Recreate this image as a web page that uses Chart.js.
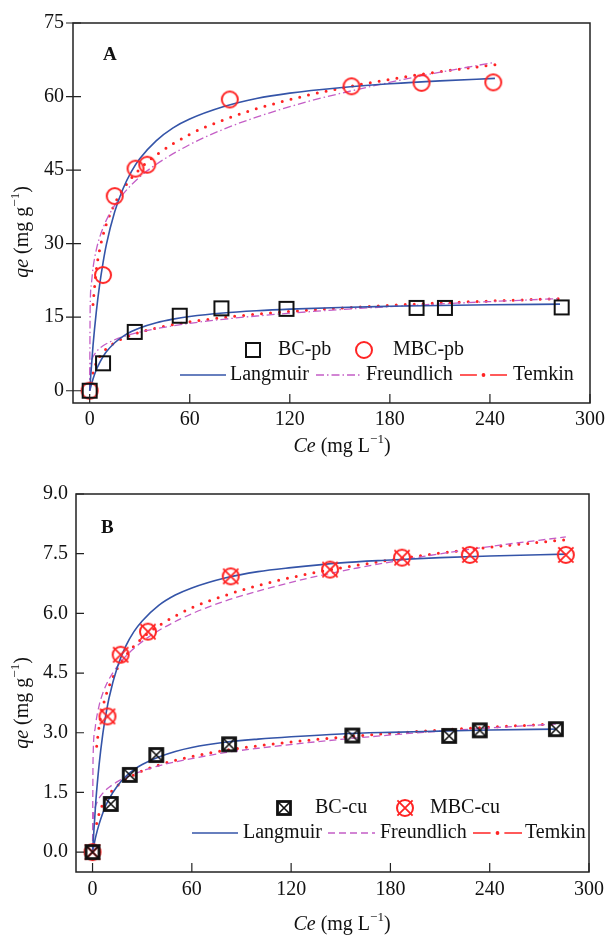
<!DOCTYPE html>
<html>
<head>
<meta charset="utf-8">
<script src="https://cdn.jsdelivr.net/npm/chart.js@4.4.1/dist/chart.umd.min.js"></script>
<style>
  html, body { margin: 0; padding: 0; background: #fff; }
  canvas { display: block; }
</style>
</head>
<body>
<canvas id="chartA" width="610" height="465"></canvas>
<canvas id="chartB" width="610" height="470"></canvas>
<script>
// ---- axis ticks ----
const xTicks = [0, 60, 120, 180, 240, 300];
const yTicksA = [0, 15, 30, 45, 60, 75];
const yTicksB = [0, 1.5, 3.0, 4.5, 6.0, 7.5, 9.0];

// ---- panel A: Pb ----
const bcPbCe = [0, 8, 27, 54, 79, 118, 196, 213, 283];
const bcPbQe = [0, 5.6, 12.0, 15.3, 16.8, 16.7, 16.9, 16.9, 17.0];
const mbcPbCe = [0, 8, 15, 27.5, 34.5, 84, 157, 199, 242];
const mbcPbQe = [0, 23.6, 39.7, 45.3, 46.1, 59.4, 62.1, 62.8, 62.9];

const langMbcPbCe = [0, 2, 4, 6, 8, 10, 15, 20, 25, 30, 40, 50, 60, 80, 100, 120, 150, 180, 210, 243];
const langMbcPbQe = [0, 9.2, 16.2, 21.7, 26.1, 29.8, 36.5, 41.2, 44.7, 47.3, 51.0, 53.6, 55.4, 57.9, 59.6, 60.7, 61.8, 62.6, 63.2, 63.7];
const freMbcPbCe = [0, 0.3, 1, 2, 4, 6, 8, 10, 15, 20, 30, 40, 60, 80, 100, 130, 160, 200, 243];
const freMbcPbQe = [0, 16.9, 21.7, 25.0, 28.8, 31.3, 33.2, 34.8, 37.8, 40.1, 43.6, 46.2, 50.2, 53.3, 55.8, 58.9, 61.4, 64.3, 67.0];
const temMbcPbCe = [2, 4, 6, 8, 10, 15, 20, 30, 40, 60, 80, 100, 130, 160, 200, 243];
const temMbcPbQe = [17.6, 24.7, 28.8, 31.7, 34.0, 38.1, 41.1, 45.2, 48.1, 52.3, 55.2, 57.5, 60.2, 62.3, 64.6, 66.5];

const langBcPbCe = [0, 2, 4, 6, 8, 10, 15, 20, 25, 30, 40, 50, 60, 80, 100, 120, 150, 180, 210, 240, 282];
const langBcPbQe = [0, 2.41, 4.27, 5.74, 6.94, 7.93, 9.79, 11.10, 12.07, 12.81, 13.88, 14.61, 15.14, 15.86, 16.32, 16.65, 16.99, 17.22, 17.40, 17.53, 17.66];
const freBcPbCe = [0, 0.3, 1.5, 2, 4, 6, 8, 10, 15, 20, 30, 40, 60, 80, 100, 130, 160, 200, 240, 282];
const freBcPbQe = [0, 4.72, 6.53, 6.92, 7.96, 8.64, 9.16, 9.58, 10.40, 11.02, 11.96, 12.67, 13.75, 14.57, 15.24, 16.07, 16.75, 17.53, 18.18, 18.80];
const temBcPbCe = [2, 4, 6, 8, 10, 15, 20, 30, 40, 60, 80, 100, 130, 160, 200, 240, 282];
const temBcPbQe = [3.60, 5.73, 6.97, 7.85, 8.54, 9.78, 10.67, 11.91, 12.80, 14.04, 14.92, 15.61, 16.41, 17.05, 17.74, 18.30, 18.79];

// ---- panel B: Cu ----
const bcCuCe = [0, 11, 22.5, 38.5, 82.5, 157, 215.5, 234, 280];
const bcCuQe = [0, 1.21, 1.94, 2.44, 2.71, 2.93, 2.92, 3.06, 3.09];
const mbcCuCe = [0, 9, 17, 33.5, 83.5, 143.5, 187, 228, 286];
const mbcCuQe = [0, 3.41, 4.96, 5.54, 6.93, 7.10, 7.40, 7.47, 7.47];

const langMbcCuCe = [0, 2, 4, 6, 8, 10, 15, 20, 25, 30, 40, 50, 60, 80, 100, 120, 150, 180, 210, 240, 286];
const langMbcCuQe = [0, 1.29, 2.21, 2.91, 3.44, 3.88, 4.65, 5.17, 5.54, 5.81, 6.20, 6.46, 6.64, 6.89, 7.05, 7.15, 7.27, 7.34, 7.40, 7.44, 7.49];
const freMbcCuCe = [0, 0.3, 1.5, 2, 4, 6, 8, 10, 15, 20, 30, 40, 60, 80, 100, 130, 160, 200, 240, 286];
const freMbcCuQe = [0, 2.32, 3.09, 3.26, 3.69, 3.97, 4.18, 4.35, 4.67, 4.92, 5.29, 5.57, 5.99, 6.31, 6.56, 6.88, 7.14, 7.43, 7.68, 7.92];
const temMbcCuCe = [2.5, 4, 6, 8, 10, 15, 20, 30, 40, 60, 80, 100, 130, 160, 200, 240, 286];
const temMbcCuQe = [2.66, 3.17, 3.61, 3.93, 4.17, 4.62, 4.93, 5.38, 5.69, 6.14, 6.45, 6.70, 6.99, 7.21, 7.46, 7.66, 7.85];

const langBcCuCe = [0, 2, 4, 6, 8, 10, 15, 20, 25, 30, 40, 50, 60, 80, 100, 120, 150, 180, 210, 240, 280];
const langBcCuQe = [0, 0.40, 0.71, 0.96, 1.17, 1.34, 1.66, 1.90, 2.07, 2.20, 2.39, 2.53, 2.63, 2.76, 2.84, 2.90, 2.97, 3.01, 3.04, 3.07, 3.09];
const freBcCuCe = [0, 0.3, 1.5, 2, 4, 6, 8, 10, 15, 20, 30, 40, 60, 80, 100, 130, 160, 200, 240, 280];
const freBcCuQe = [0, 0.80, 1.11, 1.18, 1.36, 1.47, 1.56, 1.63, 1.77, 1.88, 2.04, 2.17, 2.35, 2.50, 2.61, 2.75, 2.87, 3.01, 3.12, 3.22];
const temBcCuCe = [2.5, 4, 6, 8, 10, 15, 20, 30, 40, 60, 80, 100, 130, 160, 200, 240, 280];
const temBcCuQe = [0.72, 0.97, 1.19, 1.34, 1.46, 1.67, 1.82, 2.04, 2.19, 2.40, 2.56, 2.67, 2.81, 2.92, 3.04, 3.14, 3.22];

const BLUE = '#3454a8';
const MAGENTA = '#c45ec6';
const RED = '#ff2424';
const FONT = '"Liberation Serif", "Times New Roman", serif';

const pts = (xs, ys) => xs.map((x, i) => ({ x, y: ys[i] }));

// marker glyphs drawn once, used for both the plot and the legend
function marker(size, draw) {
    const c = document.createElement('canvas');
    c.width = c.height = size;
    const g = c.getContext('2d');
    g.translate(size / 2, size / 2);
    draw(g);
    return c;
}
const squareMk = marker(20, g => {
    g.strokeStyle = '#111'; g.lineWidth = 2;
    g.strokeRect(-7, -7, 14, 14);
});
const circleMk = marker(22, g => {
    g.strokeStyle = RED; g.lineWidth = 2;
    g.beginPath(); g.arc(0, 0, 8, 0, Math.PI * 2); g.stroke();
});
const squareXMk = marker(20, g => {
    g.strokeStyle = '#111'; g.lineWidth = 1.6;
    g.beginPath(); g.moveTo(-6, -6); g.lineTo(6, 6); g.moveTo(6, -6); g.lineTo(-6, 6); g.stroke();
    g.lineWidth = 2.8;
    g.strokeRect(-6.5, -6.5, 13, 13);
});
const circleXMk = marker(24, g => {
    g.strokeStyle = RED; g.lineWidth = 2;
    g.beginPath(); g.arc(0, 0, 8, 0, Math.PI * 2); g.stroke();
    g.lineWidth = 1.8;
    g.beginPath(); g.moveTo(-7.6, -7.6); g.lineTo(7.6, 7.6); g.moveTo(7.6, -7.6); g.lineTo(-7.6, 7.6); g.stroke();
});

const langStyle = { color: BLUE, width: 1.6, dash: [] };
const freStyleA = { color: MAGENTA, width: 1.3, dash: [8, 3, 1.5, 3] };
const freStyleB = { color: MAGENTA, width: 1.3, dash: [7, 4] };

function markerSet(label, data, mk) {
    return { label, data, pointStyle: mk, pointRadius: 8, showLine: false };
}
function curve(label, data, st) {
    return {
        label, data, showLine: true, pointRadius: 0, borderColor: st.color,
        borderWidth: st.width, borderDash: st.dash, cubicInterpolationMode: 'monotone'
    };
}
function temkin(label, data) {
    return {
        label, data, showLine: true, pointRadius: 0, borderColor: RED,
        borderWidth: 3, borderDash: [0, 9], borderCapStyle: 'round', cubicInterpolationMode: 'monotone'
    };
}

function richText(ctx, parts, cx, cy, rot) {
    const fontOf = p => p.it ? `italic 20px ${FONT}` : p.sup ? `13px ${FONT}` : `20px ${FONT}`;
    let w = 0;
    parts.forEach(p => { ctx.font = fontOf(p); w += ctx.measureText(p.t).width; });
    ctx.save();
    ctx.translate(cx, cy);
    if (rot) ctx.rotate(-Math.PI / 2);
    ctx.fillStyle = '#111';
    ctx.textBaseline = 'middle';
    ctx.textAlign = 'left';
    let x = -w / 2;
    parts.forEach(p => {
        ctx.font = fontOf(p);
        ctx.fillText(p.t, x, p.sup ? -7 : 0);
        x += ctx.measureText(p.t).width;
    });
    ctx.restore();
}

const framePlugin = {
    id: 'frame',
    afterDraw(chart, args, o) {
        const { ctx, chartArea: a, scales: { x, y } } = chart;
        ctx.save();
        ctx.strokeStyle = '#222';
        ctx.lineWidth = 1.5;
        ctx.strokeRect(a.left, a.top, a.right - a.left, a.bottom - a.top);
        ctx.lineWidth = 1.2;
        ctx.beginPath();
        xTicks.forEach(v => {
            const px = x.getPixelForValue(v);
            ctx.moveTo(px, a.bottom); ctx.lineTo(px, a.bottom - 9);
        });
        o.yTicks.forEach(v => {
            const py = y.getPixelForValue(v);
            ctx.moveTo(a.left - o.tickOut, py); ctx.lineTo(a.left + 8, py);
        });
        ctx.stroke();

        // panel letter
        ctx.fillStyle = '#111';
        ctx.font = `bold 19px ${FONT}`;
        ctx.textBaseline = 'alphabetic';
        ctx.fillText(o.letter, o.letterX, o.letterY);

        // legend
        ctx.font = `20px ${FONT}`;
        ctx.textBaseline = 'middle';
        o.legend.forEach(it => {
            if (it.mk) {
                ctx.drawImage(it.mk, it.x - it.mk.width / 2, it.y - it.mk.height / 2);
            } else if (it.line) {
                ctx.save();
                ctx.strokeStyle = it.line.color; ctx.lineWidth = it.line.width;
                ctx.setLineDash(it.line.dash);
                ctx.beginPath(); ctx.moveTo(it.x1, it.y); ctx.lineTo(it.x2, it.y); ctx.stroke();
                ctx.restore();
            } else if (it.temkin) {
                const seg = (it.x2 - it.x1) * 0.36;
                const mid = (it.x1 + it.x2) / 2;
                ctx.save();
                ctx.strokeStyle = RED; ctx.fillStyle = RED; ctx.lineWidth = 1.6;
                ctx.beginPath();
                ctx.moveTo(it.x1, it.y); ctx.lineTo(it.x1 + seg, it.y);
                ctx.moveTo(it.x2 - seg, it.y); ctx.lineTo(it.x2, it.y);
                ctx.stroke();
                ctx.beginPath(); ctx.arc(mid, it.y, 1.9, 0, Math.PI * 2); ctx.fill();
                ctx.restore();
            } else if (it.text) {
                ctx.fillStyle = '#111';
                ctx.fillText(it.text, it.x, it.y);
            }
        });

        // axis titles
        richText(ctx, [{ t: 'Ce', it: true }, { t: ' (mg L' }, { t: '\u22121', sup: true }, { t: ')' }], 342, o.xTitleY, false);
        richText(ctx, [{ t: 'qe', it: true }, { t: ' (mg g' }, { t: '\u22121', sup: true }, { t: ')' }], 23, o.yTitleY, true);
        ctx.restore();
    }
};

function makeChart(id, cfg) {
    return new Chart(document.getElementById(id), {
        type: 'scatter',
        data: { datasets: cfg.datasets },
        options: {
            responsive: false,
            animation: false,
            events: [],
            layout: { padding: cfg.padding },
            plugins: {
                legend: { display: false },
                tooltip: { enabled: false },
                frame: cfg.frame
            },
            scales: {
                x: {
                    type: 'linear', min: -10, max: 300,
                    grid: { display: false, drawTicks: false },
                    border: { display: false },
                    ticks: { font: { family: FONT, size: 20 }, color: '#111', padding: cfg.xPad, autoSkip: false, maxRotation: 0 },
                    afterBuildTicks: s => { s.ticks = xTicks.map(v => ({ value: v })); },
                    afterFit: s => { s.height = cfg.xH; }
                },
                y: {
                    type: 'linear', min: cfg.yMin, max: cfg.yMax,
                    grid: { display: false, drawTicks: false },
                    border: { display: false },
                    ticks: { font: { family: FONT, size: 20 }, color: '#111', padding: cfg.yPad, autoSkip: false, callback: cfg.yFmt },
                    afterBuildTicks: s => { s.ticks = cfg.frame.yTicks.map(v => ({ value: v })); },
                    afterFit: s => { s.width = cfg.yW; }
                }
            }
        },
        plugins: [framePlugin]
    });
}

makeChart('chartA', {
    padding: { left: 0, right: 17, top: 23, bottom: 0 },
    xH: 62, yW: 73, xPad: 5, yPad: 9,
    yMin: -2.5, yMax: 75,
    yFmt: v => String(v),
    datasets: [
        markerSet('BC-pb', pts(bcPbCe, bcPbQe), squareMk),
        markerSet('MBC-pb', pts(mbcPbCe, mbcPbQe), circleMk),
        curve('Langmuir', pts(langMbcPbCe, langMbcPbQe), langStyle),
        curve('Freundlich', pts(freMbcPbCe, freMbcPbQe), freStyleA),
        temkin('Temkin', pts(temMbcPbCe, temMbcPbQe)),
        curve('Langmuir', pts(langBcPbCe, langBcPbQe), langStyle),
        curve('Freundlich', pts(freBcPbCe, freBcPbQe), freStyleA),
        temkin('Temkin', pts(temBcPbCe, temBcPbQe))
    ],
    frame: {
        yTicks: yTicksA, tickOut: 7,
        letter: 'A', letterX: 103, letterY: 60,
        xTitleY: 447, yTitleY: 232,
        legend: [
            { mk: squareMk, x: 253, y: 350 }, { text: 'BC-pb', x: 278, y: 350 },
            { mk: circleMk, x: 364, y: 350 }, { text: 'MBC-pb', x: 393, y: 350 },
            { line: langStyle, x1: 180, x2: 226, y: 375 }, { text: 'Langmuir', x: 230, y: 375 },
            { line: freStyleA, x1: 316, x2: 360, y: 375 }, { text: 'Freundlich', x: 366, y: 375 },
            { temkin: true, x1: 460, x2: 507, y: 375 }, { text: 'Temkin', x: 513, y: 375 }
        ]
    }
});

makeChart('chartB', {
    padding: { left: 0, right: 17, top: 29, bottom: 0 },
    xH: 63, yW: 76, xPad: 6, yPad: 8,
    yMin: -0.5, yMax: 9,
    yFmt: v => v.toFixed(1),
    datasets: [
        markerSet('BC-cu', pts(bcCuCe, bcCuQe), squareXMk),
        markerSet('MBC-cu', pts(mbcCuCe, mbcCuQe), circleXMk),
        curve('Langmuir', pts(langMbcCuCe, langMbcCuQe), langStyle),
        curve('Freundlich', pts(freMbcCuCe, freMbcCuQe), freStyleB),
        temkin('Temkin', pts(temMbcCuCe, temMbcCuQe)),
        curve('Langmuir', pts(langBcCuCe, langBcCuQe), langStyle),
        curve('Freundlich', pts(freBcCuCe, freBcCuQe), freStyleB),
        temkin('Temkin', pts(temBcCuCe, temBcCuQe))
    ],
    frame: {
        yTicks: yTicksB, tickOut: 0,
        letter: 'B', letterX: 101, letterY: 68,
        xTitleY: 460, yTitleY: 238,
        legend: [
            { mk: squareXMk, x: 284, y: 343 }, { text: 'BC-cu', x: 315, y: 343 },
            { mk: circleXMk, x: 405, y: 343 }, { text: 'MBC-cu', x: 430, y: 343 },
            { line: langStyle, x1: 192, x2: 238, y: 368 }, { text: 'Langmuir', x: 243, y: 368 },
            { line: freStyleB, x1: 328, x2: 375, y: 368 }, { text: 'Freundlich', x: 380, y: 368 },
            { temkin: true, x1: 473, x2: 522, y: 368 }, { text: 'Temkin', x: 525, y: 368 }
        ]
    }
});
</script>
</body>
</html>
